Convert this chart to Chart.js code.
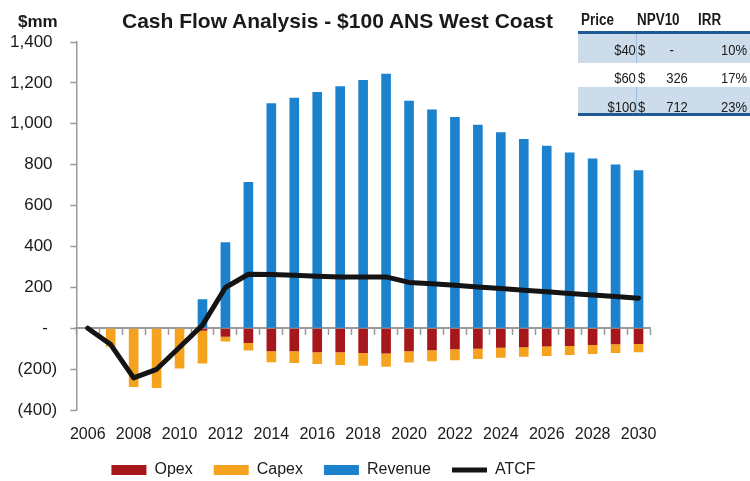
<!DOCTYPE html>
<html>
<head>
<meta charset="utf-8">
<script src="https://cdn.jsdelivr.net/npm/chart.js@4.4.0/dist/chart.umd.min.js"></script>
<style>
  body { margin: 0; background: #fff; }
  #wrap { position: relative; width: 750px; height: 481px; font-family: "Liberation Sans", Arial, sans-serif; color: #1a1a1a; }
  #chart { position: absolute; left: 0; top: 0; }
  #title { position: absolute; left: 122px; top: 9px; font-weight: bold; font-size: 21px; line-height: 24px; white-space: nowrap; }
  #unit { position: absolute; left: 18px; top: 12px; font-weight: bold; font-size: 17px; line-height: 20px; }
  #tbl { position: absolute; left: 578px; top: 0; width: 172px; height: 117px; font-size: 15.5px; }
  #tbl .row { position: absolute; left: 0; width: 172px; }
  #tbl .shade { background: #ccdceb; }
  #tbl .rule { position: absolute; left: 0; width: 172px; height: 3px; background: #1f5a96; }
  #tbl .vline { position: absolute; left: 58px; width: 1px; background: #9fbedb; }
  #tbl span { position: absolute; line-height: 1; white-space: pre; transform: scaleX(0.84); }
  #tbl .l { transform-origin: left center; }
  #tbl .r { transform-origin: right center; }
  #tbl .hd { font-weight: bold; font-size: 16px; top: 11.5px; }
</style>
</head>
<body>
<div id="wrap">
  <canvas id="chart" width="750" height="481"></canvas>
  <div id="unit">$mm</div>
  <div id="title">Cash Flow Analysis - $100 ANS West Coast</div>
  <div id="tbl"></div>
</div>
<script>
// Chart data ($mm)
var years   = ['2006','2007','2008','2009','2010','2011','2012','2013','2014','2015','2016','2017','2018',
               '2019','2020','2021','2022','2023','2024','2025','2026','2027','2028','2029','2030'];
var opex    = [null, null, null, null, null, -12, -42, -72, -113, -113, -117, -117, -121,
               -124, -113, -108, -103, -100, -96, -93, -90, -87, -82, -78, -77];
var capex   = [null, -91, -287, -292, -197, -161, -23, -37, -53, -57, -58, -63, -62,
               -64, -55, -53, -54, -50, -49, -47, -46, -44, -44, -43, -40];
var revenue = [null, null, null, null, null, 142, 421, 715, 1100, 1127, 1155, 1184, 1214,
               1245, 1113, 1070, 1033, 995, 959, 925, 892, 859, 830, 801, 773];
var atcf    = [0, -80, -243, -201, -93, 15, 199, 264, 263, 259, 254, 251, 250,
               251, 224, 217, 210, 202, 194, 186, 178, 170, 162, 155, 147];

// Price sensitivity table
var tblHead   = ['Price', 'NPV10', 'IRR'];
var tblPrice  = ['$40', '$60', '$100'];
var tblNpv    = ['-', '326', '712'];
var tblIrr    = ['10%', '17%', '23%'];

// ── Table ─────────────────────────────
var tbl = document.getElementById('tbl');
var rowBoxes  = [[34, 29, true], [63, 24, false], [87, 26, true]];
var rowTextTop = [41.9, 70.2, 98.6];
var html = '';
html += '<span class="hd l" style="left:3px">' + tblHead[0] + '</span>';
html += '<span class="hd l" style="left:59px">' + tblHead[1] + '</span>';
html += '<span class="hd l" style="left:120px">' + tblHead[2] + '</span>';
html += '<div class="rule" style="top:31px"></div>';
for (var i = 0; i < tblPrice.length; i++) {
  var b = rowBoxes[i];
  html += '<div class="row' + (b[2] ? ' shade' : '') + '" style="top:' + b[0] + 'px;height:' + b[1] + 'px"></div>';
  if (b[2]) html += '<div class="vline" style="top:' + b[0] + 'px;height:' + b[1] + 'px"></div>';
  var t = rowTextTop[i];
  html += '<span class="r" style="top:' + t + 'px;right:114px">' + tblPrice[i] + '</span>';
  html += '<span class="l" style="top:' + t + 'px;left:60px">$</span>';
  html += '<span class="r" style="top:' + t + 'px;right:62px">' + (tblNpv[i] === '-' ? '-    ' : tblNpv[i]) + '</span>';
  html += '<span class="r" style="top:' + t + 'px;right:3px">' + tblIrr[i] + '</span>';
}
html += '<div class="rule" style="top:113px"></div>';
tbl.innerHTML = html;

// ── Chart ─────────────────────────────
var fontFam = '"Liberation Sans", Arial, sans-serif';
var axisGray = '#9a9a9a';

function fmtAxis(v) {
  if (v === 0) return '-  ';
  if (v < 0) return '(' + Math.abs(v).toLocaleString('en-US') + ')';
  return v.toLocaleString('en-US') + ' ';
}

new Chart(document.getElementById('chart'), {
  type: 'bar',
  data: {
    labels: years,
    datasets: [
      { label: 'Opex', data: opex, backgroundColor: '#a5171b', xAxisID: 'x', yAxisID: 'y',
        stack: 'cf', order: 1, pointStyle: 'rect', barPercentage: 0.42, categoryPercentage: 1 },
      { label: 'Capex', data: capex, backgroundColor: '#f5a31f', xAxisID: 'x', yAxisID: 'y',
        stack: 'cf', order: 1, pointStyle: 'rect', barPercentage: 0.42, categoryPercentage: 1 },
      { label: 'Revenue', data: revenue, backgroundColor: '#1c82ce', xAxisID: 'x', yAxisID: 'y',
        stack: 'cf', order: 1, pointStyle: 'rect', barPercentage: 0.42, categoryPercentage: 1 },
      { type: 'line', label: 'ATCF', data: atcf, borderColor: '#141414', backgroundColor: '#141414',
        borderWidth: 5, tension: 0, pointRadius: 0, pointStyle: 'line', borderCapStyle: 'round',
        borderJoinStyle: 'round', xAxisID: 'x', yAxisID: 'y', stack: 'line', order: 0 }
    ]
  },
  options: {
    responsive: false,
    animation: false,
    layout: { padding: { left: -3, right: 100, top: 42, bottom: -7 } },
    plugins: {
      tooltip: { enabled: false },
      legend: {
        position: 'bottom',
        labels: {
          usePointStyle: true,
          pointStyleWidth: 35,
          boxHeight: 10,
          padding: 21,
          color: '#1a1a1a',
          font: { family: fontFam, size: 16 },
          sort: function(a, b){ return a.datasetIndex - b.datasetIndex; }
        }
      }
    },
    scales: {
      y: {
        min: -400, max: 1400, stacked: true,
        ticks: { stepSize: 200, padding: 13, color: '#1a1a1a', font: { family: fontFam, size: 17 }, callback: fmtAxis },
        grid: { drawOnChartArea: false, tickLength: 6, tickColor: axisGray, tickWidth: 1.5 },
        border: { color: axisGray, width: 1.5 }
      },
      x: {
        position: { y: 0 }, stacked: true, offset: true,
        ticks: { display: false },
        grid: { drawOnChartArea: false, offset: true, tickLength: 6, tickColor: axisGray, tickWidth: 1.5 },
        border: { color: axisGray, width: 2 }
      },
      xLabels: {
        type: 'category', position: 'bottom', offset: true,
        grid: { display: false, drawTicks: true, tickLength: 19 },
        border: { display: false },
        ticks: {
          autoSkip: false, maxRotation: 0, padding: -3.6, color: '#1a1a1a',
          font: { family: fontFam, size: 16 },
          callback: function(v, i){ return i % 2 === 0 ? this.getLabelForValue(v) : ''; }
        }
      }
    }
  }
});
</script>
</body>
</html>
